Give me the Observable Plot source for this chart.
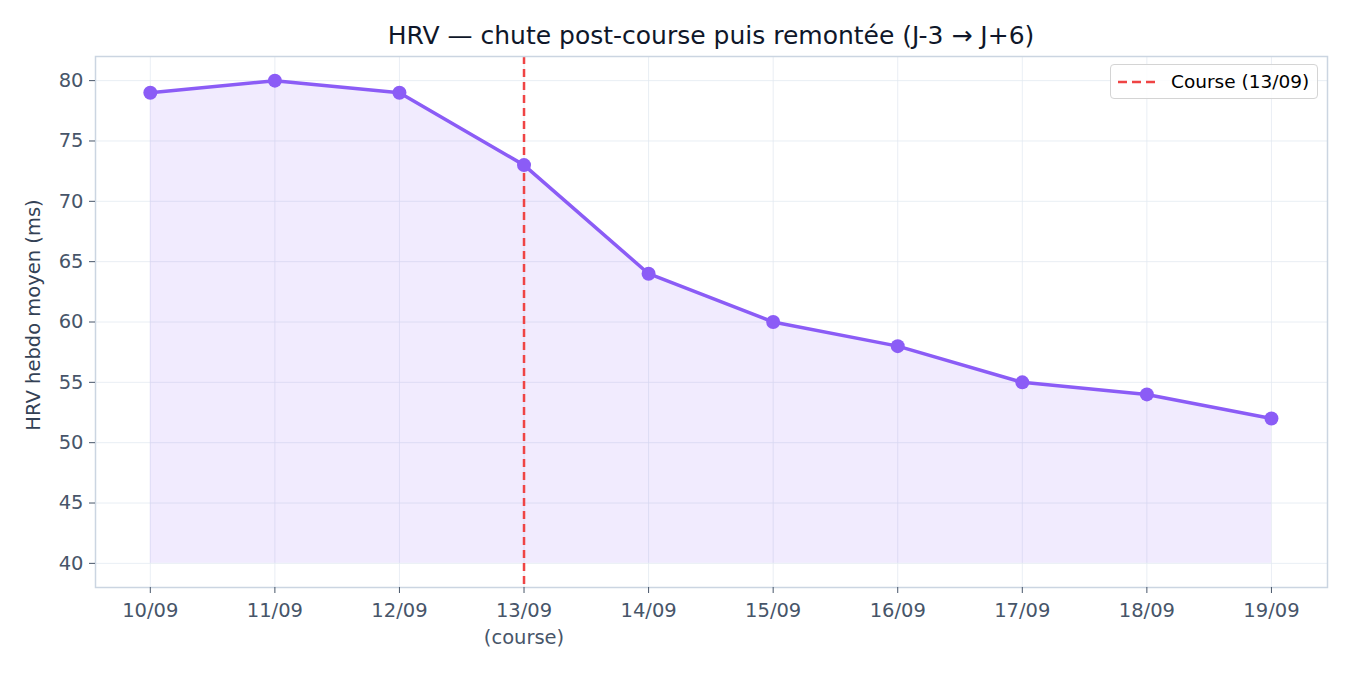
<!DOCTYPE html>
<html>
<head>
<meta charset="utf-8">
<script src="https://cdn.jsdelivr.net/npm/d3@7"></script>
<script src="https://cdn.jsdelivr.net/npm/@observablehq/plot@0.6"></script>
<style>
  body { margin: 0; background: #fff; font-family: "DejaVu Sans", sans-serif; }
  #wrap { position: relative; width: 1350px; height: 675px; }
  #title { height: 50px; line-height: 72px; text-align: center; font-size: 25px; color: #0f172a; font-family: "DejaVu Sans", sans-serif; padding-left: 72px; box-sizing: border-box; white-space: nowrap; }
  #legend { position: absolute; left: 1110px; top: 64px; width: 208px; height: 35px; border: 1px solid #d4d4d4; border-radius: 4px; background: rgba(255,255,255,0.85); display: flex; align-items: center; font-size: 18.5px; color: #000; box-sizing: border-box; font-family: "DejaVu Sans", sans-serif; white-space: nowrap; }
  #legend svg { margin-left: 7px; margin-right: 13px; }
</style>
</head>
<body>
<div id="wrap">
  <div id="title">HRV — chute post-course puis remontée (J-3 → J+6)</div>
  <div id="chart"></div>
  <div id="legend"><svg width="40" height="6"><line x1="0" y1="3" x2="40" y2="3" stroke="#ef4444" stroke-width="2.5" stroke-dasharray="9,5"/></svg>Course (13/09)</div>
</div>
<script>
const days = ["10/09", "11/09", "12/09", "13/09\n(course)", "14/09", "15/09", "16/09", "17/09", "18/09", "19/09"];
const hrv = [79, 80, 79, 73, 64, 60, 58, 55, 54, 52];
const yTicks = [40, 45, 50, 55, 60, 65, 70, 75, 80];
const raceIndex = 3;
const baseline = 40;

const data = days.map((d, i) => ({ i, day: d, hrv: hrv[i] }));

const chart = Plot.plot({
  width: 1350,
  height: 625,
  marginTop: 6,
  marginBottom: 88,
  marginLeft: 95,
  marginRight: 23,
  style: { fontFamily: "DejaVu Sans, sans-serif", fontSize: "20px", color: "#475569", background: "transparent" },
  x: { domain: [-0.44, 9.45], label: null },
  y: { domain: [38, 82], label: null },
  marks: [
    Plot.gridX(d3.range(days.length), { stroke: "#e2e8f0", strokeOpacity: 0.75, strokeWidth: 1 }),
    Plot.gridY(yTicks, { stroke: "#e2e8f0", strokeOpacity: 0.75, strokeWidth: 1 }),
    Plot.areaY(data, { x: "i", y1: baseline, y2: "hrv", fill: "#8b5cf6", fillOpacity: 0.12 }),
    Plot.ruleX([raceIndex], { stroke: "#ef4444", strokeWidth: 2.5, strokeDasharray: "8,5" }),
    Plot.lineY(data, { x: "i", y: "hrv", stroke: "#8b5cf6", strokeWidth: 3.5 }),
    Plot.dot(data, { x: "i", y: "hrv", fill: "#8b5cf6", r: 7 }),
    Plot.frame({ stroke: "#cbd5e1", strokeWidth: 1.5 }),
    Plot.axisX(d3.range(days.length), { tickFormat: i => days[i], tickSize: 6, tickPadding: 5, stroke: "#475569", fill: "#475569", fontSize: 19.5, lineHeight: 1.35 }),
    Plot.axisY(yTicks, { tickSize: 6, tickPadding: 6, stroke: "#475569", fill: "#475569", fontSize: 19.5 }),
    Plot.text(["HRV hebdo moyen (ms)"], { frameAnchor: "left", dx: -62, dy: -7, rotate: -90, textAnchor: "middle", fill: "#334155", fontSize: 19.5 })
  ]
});
document.getElementById("chart").appendChild(chart);
</script>
</body>
</html>
